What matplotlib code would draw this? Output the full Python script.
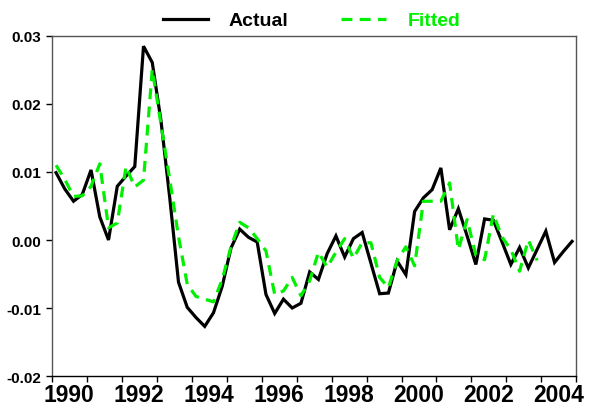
import numpy as np
import matplotlib
matplotlib.use("Agg")
import matplotlib.pyplot as plt
from matplotlib.ticker import FixedLocator, NullFormatter, FixedFormatter

plt.rcParams['font.family'] = ['Liberation Sans', 'DejaVu Sans']
plt.rcParams['font.weight'] = 'bold'

# Quarterly series, 1990Q1 onwards
start_year = 1990
actual = [
    0.0099, 0.0075, 0.0057, 0.0067,   # 1990
    0.0103, 0.0034, 0.0000, 0.0079,   # 1991
    0.0094, 0.0108, 0.0285, 0.0261,   # 1992
    0.0175, 0.0062, -0.0062, -0.0099, # 1993
    -0.0114, -0.0127, -0.0107, -0.0068,  # 1994
    -0.0012, 0.0016, 0.0004, -0.0003,    # 1995
    -0.0080, -0.0108, -0.0087, -0.0100,  # 1996
    -0.0093, -0.0047, -0.0058, -0.0020,  # 1997
    0.0006, -0.0025, 0.0002, 0.0011,     # 1998
    -0.0034, -0.0079, -0.0078, -0.0031,  # 1999
    -0.0051, 0.0042, 0.0062, 0.0074,     # 2000
    0.0106, 0.0015, 0.0046, 0.0006,      # 2001
    -0.0036, 0.0031, 0.0029, -0.0003,    # 2002
    -0.0036, -0.0011, -0.0041, -0.0014,  # 2003
    0.0013, -0.0033, -0.0017, -0.0002,   # 2004
]
fitted = [
    0.0110, 0.0089, 0.0064, 0.0065,
    0.0079, 0.0112, 0.0018, 0.0025,
    0.0108, 0.0078, 0.0088, 0.0251,
    0.0170, 0.0089, 0.0005, -0.0065,
    -0.0083, -0.0087, -0.0091, -0.0058,
    -0.0010, 0.0026, 0.0018, 0.0002,
    -0.0016, -0.0080, -0.0075, -0.0055,
    -0.0082, -0.0060, -0.0018, -0.0040,
    -0.0018, 0.0002, -0.0027, -0.0004,
    -0.0004, -0.0055, -0.0070, -0.0030,
    -0.0010, -0.0038, 0.0057, 0.0057,
    0.0057, 0.0084, -0.0014, 0.0030,
    -0.0022, -0.0029, 0.0038, 0.0004,
    -0.0014, -0.0046, 0.0000, -0.0030,
]
year_labels = ['1990', '1992', '1994', '1996', '1998', '2000', '2002', '2004']
y_ticks = [-0.02, -0.01, 0.00, 0.01, 0.02, 0.03]

GREEN = '#00f000'

def quarter_positions(n):
    return start_year + (np.arange(n) + 0.5) / 4.0

fig = plt.figure(figsize=(5.90, 4.06), dpi=100)
ax = fig.add_axes([0.0876, 0.0714, 0.977 - 0.0876, 0.9089 - 0.0714])

ax.plot(quarter_positions(len(actual)), actual, color='black', lw=2.3,
        solid_joinstyle='miter', label='Actual')
ax.plot(quarter_positions(len(fitted)), fitted, color=GREEN, lw=2.3,
        linestyle=(0, (3.4, 2.3)), label='Fitted')

ax.set_xlim(1990, 2005)
ax.set_ylim(-0.02, 0.03)

# year boundaries get ticks; labels sit in the middle of each year
ax.xaxis.set_major_locator(FixedLocator(np.arange(1990, 2006)))
ax.xaxis.set_major_formatter(NullFormatter())
label_pos = [int(s) + 0.5 for s in year_labels]
ax.xaxis.set_minor_locator(FixedLocator(label_pos))
ax.xaxis.set_minor_formatter(FixedFormatter(year_labels))
ax.tick_params(axis='x', which='major', direction='out', length=4, width=1)
ax.tick_params(axis='x', which='minor', length=0, pad=5, labelsize=16.5)

ax.set_yticks(y_ticks)
ax.set_yticklabels([f'{v:.2f}' for v in y_ticks])
ax.tick_params(axis='y', direction='out', length=4, width=1, pad=3.5, labelsize=11)

for side in ['left', 'top', 'right']:
    ax.spines[side].set_color('#555555')
    ax.spines[side].set_linewidth(1.0)
ax.spines['bottom'].set_color('black')
ax.spines['bottom'].set_linewidth(1.0)

leg = fig.legend(loc='center', bbox_to_anchor=(0.528, 0.947), ncol=2,
                 frameon=False, fontsize=14, handlelength=2.3,
                 handletextpad=1.1, columnspacing=2.7, borderpad=0,
                 labelcolor=['black', GREEN])

fig.savefig('out.png', dpi=100)
